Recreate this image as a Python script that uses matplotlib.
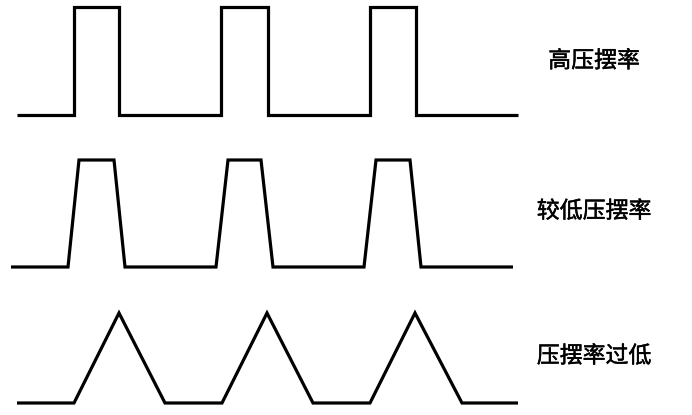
import matplotlib
matplotlib.use('Agg')
import matplotlib.pyplot as plt
import matplotlib.patheffects as pe

plt.rcParams['font.family'] = ['Noto Sans CJK SC', 'DejaVu Sans']

# time points (same scale for all rows) and signal level (0 = low, 1 = high)
t_high = [17, 74, 74, 119, 119, 221, 221, 268, 268, 370, 370, 416, 416, 518]
v_high = [0, 0, 1, 1, 0, 0, 1, 1, 0, 0, 1, 1, 0, 0]

t_mid = [11, 68, 79, 114, 125, 216, 228, 261, 273, 364, 376, 410, 421, 513]
v_mid = [0, 0, 1, 1, 0, 0, 1, 1, 0, 0, 1, 1, 0, 0]

t_low = [17, 74, 119, 165, 222, 267, 313, 370, 415, 462, 518]
v_low = [0, 0, 1, 0, 0, 1, 0, 0, 1, 0, 0]

labels = ['高压摆率', '较低压摆率', '压摆率过低']

fig = plt.figure(figsize=(6.92, 4.15), dpi=100)
fig.patch.set_facecolor('white')

# axes rectangles: [left, bottom, width, height] in figure fraction
rows = [
    (t_high, v_high, labels[0], [0, 1 - 115/415, 1, 108/415], 0.5),
    (t_mid, v_mid, labels[1], [0, 1 - 267/415, 1, 107/415], 0.52),
    (t_low, v_low, labels[2], [0, 1 - 403/415, 1, 90/415], 0.52),
]

# regular weight plus a thin outline -> looks like the medium weight of the original
medio = [pe.withStroke(linewidth=0.35, foreground='black')]

for t, v, lab, rect, ytxt in rows:
    ax = fig.add_axes(rect)
    ax.plot(t, v, color='black', lw=2.3, clip_on=False,
            solid_joinstyle='miter', solid_capstyle='butt')
    ax.set_xlim(0, 692)
    ax.set_ylim(0, 1)
    ax.axis('off')
    ax.text(594, ytxt, lab, ha='center', va='center', fontsize=16.5,
            color='black', path_effects=medio)

fig.savefig('out.png', dpi=100, facecolor='white')
print("salvou")
